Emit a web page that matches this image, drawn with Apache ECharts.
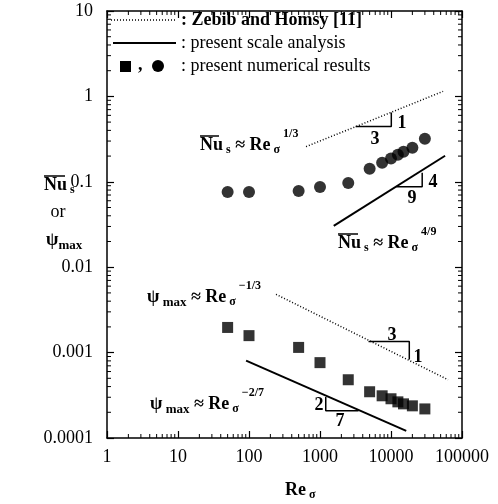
<!DOCTYPE html>
<html><head><meta charset="utf-8">
<script src="https://cdn.jsdelivr.net/npm/echarts@6/dist/echarts.min.js"></script>
<style>html,body{margin:0;padding:0;background:#fff}#c{width:498px;height:504px}</style>
</head><body><div id="c"></div>
<script>
// ---- data ----
const reSigma = [50,100,500,1000,2500,5000,7500,10000,12500,15000,20000,30000];
const nuValues = [0.076,0.076,0.078,0.087,0.097,0.142,0.167,0.187,0.208,0.225,0.251,0.32];
const psiValues = [0.00197,0.00158,0.00115,0.000763,0.000481,0.000348,0.000312,0.000288,0.000265,0.000251,0.000238,0.000219];
const zebibNu = [[636,0.258],[54200,1.145]];
const zebibPsi = [[240,0.00481],[63700,0.000481]];
const scaleNu = [[1560,0.0304],[57800,0.202]];
const scalePsi = [[91,0.000805],[16400,0.000121]];
const triZebibNu = [[3170,0.444],[10100,0.444],[10100,0.649]];
const triScaleNu = [[11900,0.0873],[27500,0.0873],[27500,0.1276]];
const triZebibPsi = [[4820,0.001346],[18100,0.001346],[18100,0.000828]];
const triScalePsi = [[1205,0.000303],[1205,0.000208],[3490,0.000208]];
const xTickLabels = ['1','10','100','1000','10000','100000'];
const yTickLabels = ['0.0001','0.001','0.01','0.1','1','10'];
const xMinor = [], yMinor = [];
for (let k = 0; k < 5; k++) for (let m = 2; m <= 9; m++) xMinor.push(m * Math.pow(10, k));
for (let k = -4; k < 1; k++) for (let m = 2; m <= 9; m++) yMinor.push(m * Math.pow(10, k));

const F = 'Liberation Serif';
const chart = echarts.init(document.getElementById('c'), null, {renderer:'canvas'});
const axLine = {lineStyle:{color:'#000', width:1.5}};
const labX = v => xTickLabels[Math.round(Math.log10(v))];
const labY = v => yTickLabels[Math.round(Math.log10(v)) + 4];

const rich = {
  b:{fontFamily:F, fontSize:18, fontWeight:'bold', color:'#000', lineHeight:36},
  s:{fontFamily:F, fontSize:12, fontWeight:'bold', color:'#000', height:26, verticalAlign:'bottom'},
  p:{fontFamily:F, fontSize:12, fontWeight:'bold', color:'#000', height:13, verticalAlign:'top'},
  m:{fontFamily:F, fontSize:13, fontWeight:'bold', color:'#000', height:24, verticalAlign:'bottom'}
};
function rt(x, y, text) {
  return {type:'text', x:x, y:y, style:{text:text, rich:rich, textVerticalAlign:'middle', textAlign:'left', fill:'#000'}};
}
function txt(x, y, t, size, weight, align) {
  return {type:'text', x:x, y:y, style:{text:t, fontFamily:F, fontSize:size||18, fontWeight:weight||'normal', fill:'#000', textVerticalAlign:'middle', textAlign:align||'left'}};
}
function ln(x1,y1,x2,y2,w,dash) {
  return {type:'line', shape:{x1,y1,x2,y2}, style:{stroke:'#000', lineWidth:w||1.5, lineDash:dash||null}};
}

const lineSeries = (data, dotted, w) => ({
  type:'line', data:data, showSymbol:false, symbol:'none', silent:true,
  lineStyle:{color:'#000', width:w, type: dotted ? [1,2] : 'solid'}
});

chart.setOption({
  animation:false,
  grid:{left:107, right:36, top:11, bottom:66},
  xAxis:[
    {type:'log', logBase:10, min:1, max:100000, position:'bottom', axisLine:axLine,
     axisTick:{inside:true, length:7, lineStyle:{color:'#000', width:1.2}},
     axisLabel:{formatter:labX, fontFamily:F, fontSize:18, color:'#000', margin:10},
     splitLine:{show:false}},
    {type:'log', logBase:10, min:1, max:100000, position:'top', axisLine:axLine,
     axisTick:{inside:true, length:7, lineStyle:{color:'#000', width:1.2}},
     axisLabel:{show:false}, splitLine:{show:false}}
  ],
  yAxis:[
    {type:'log', logBase:10, min:0.0001, max:10, position:'left', axisLine:axLine,
     axisTick:{inside:true, length:7, lineStyle:{color:'#000', width:1.2}},
     axisLabel:{formatter:labY, fontFamily:F, fontSize:18, color:'#000', margin:14},
     splitLine:{show:false}},
    {type:'log', logBase:10, min:0.0001, max:10, position:'right', axisLine:axLine,
     axisTick:{inside:true, length:7, lineStyle:{color:'#000', width:1.2}},
     axisLabel:{show:false}, splitLine:{show:false}}
  ],
  series:[
    lineSeries(zebibNu, true, 1.5),
    lineSeries(zebibPsi, true, 1.5),
    lineSeries(scaleNu, false, 2),
    lineSeries(scalePsi, false, 2),
    lineSeries(triZebibNu, false, 1.5),
    lineSeries(triScaleNu, false, 1.5),
    lineSeries(triZebibPsi, false, 1.5),
    lineSeries(triScalePsi, false, 1.5),
    {type:'scatter', data:reSigma.map((x,i)=>[x, nuValues[i]]), symbol:'circle', symbolSize:12, itemStyle:{color:'#000'}},
    {type:'scatter', data:reSigma.map((x,i)=>[x, psiValues[i]]), symbol:'rect', symbolSize:11, itemStyle:{color:'#000'}},
    {type:'custom', clip:false, silent:true, data:xMinor.map(v=>[v, 0.001]),
     renderItem:(p, api)=>{
       const v = api.value(0); const b = api.coord([v, 0.0001]); const t = api.coord([v, 10]);
       return {type:'group', children:[
         {type:'line', shape:{x1:b[0],y1:b[1],x2:b[0],y2:b[1]-4}, style:{stroke:'#000', lineWidth:1}},
         {type:'line', shape:{x1:t[0],y1:t[1],x2:t[0],y2:t[1]+4}, style:{stroke:'#000', lineWidth:1}}]};
     }},
    {type:'custom', clip:false, silent:true, data:yMinor.map(v=>[10, v]),
     renderItem:(p, api)=>{
       const v = api.value(1); const l = api.coord([1, v]); const r = api.coord([100000, v]);
       return {type:'group', children:[
         {type:'line', shape:{x1:l[0],y1:l[1],x2:l[0]+4,y2:l[1]}, style:{stroke:'#000', lineWidth:1}},
         {type:'line', shape:{x1:r[0],y1:r[1],x2:r[0]-4,y2:r[1]}, style:{stroke:'#000', lineWidth:1}}]};
     }}
  ],
  graphic:[
    // legend
    ln(111,20,176,20,1.5,[1,2]),
    txt(181,20,': Zebib and Homsy [11]',18,'bold'),
    ln(113,43,176,43,2),
    txt(181,43,': present scale analysis',18,'normal'),
    {type:'rect', shape:{x:120,y:61,width:11,height:11}, style:{fill:'#000'}},
    txt(138,65,',',18,'bold'),
    {type:'circle', shape:{cx:158,cy:66,r:6}, style:{fill:'#000'}},
    txt(181,66,': present numerical results',18,'normal'),
    // annotations
    rt(200,145,'{b|Nu}{s| s}{b| ≈ Re}{s| σ}{p| 1/3}'),
    ln(200,136,219,136,1.5),
    rt(338,243,'{b|Nu}{s| s}{b| ≈ Re}{s| σ}{p| 4/9}'),
    ln(338,234,358,234,1.5),
    rt(147,297,'{b|ψ}{m| max}{b| ≈ Re}{s| σ}{p| −1/3}'),
    rt(150,404,'{b|ψ}{m| max}{b| ≈ Re}{s| σ}{p| −2/7}'),
    // slope labels
    txt(402,123,'1',18,'bold','center'),
    txt(375,139,'3',18,'bold','center'),
    txt(433,182,'4',18,'bold','center'),
    txt(412,198,'9',18,'bold','center'),
    txt(392,335,'3',18,'bold','center'),
    txt(418,357,'1',18,'bold','center'),
    txt(319,405,'2',18,'bold','center'),
    txt(340,421,'7',18,'bold','center'),
    // axis names
    rt(285,490,'{b|Re}{s| σ}'),
    rt(44,185,'{b|Nu}{s| s}'),
    ln(44,176,65,176,1.5),
    txt(58,212,'or',18,'normal','center'),
    rt(46,240,'{b|ψ}{m|max}')
  ]
});
</script>
</body></html>
